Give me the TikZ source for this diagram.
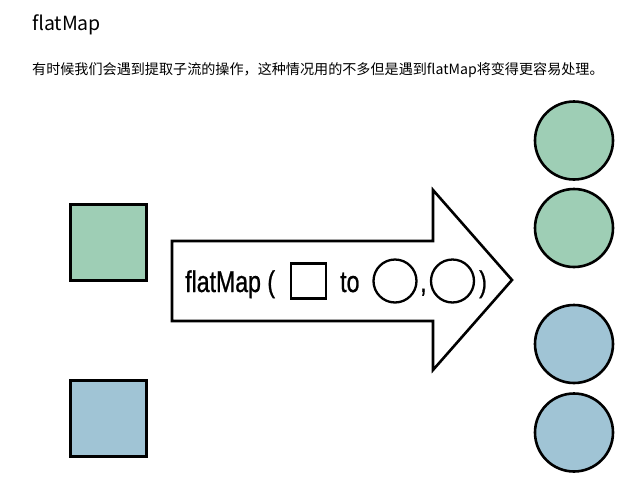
\documentclass[tikz,border=0pt]{standalone}
\usepackage{fontspec}
\setmainfont{Noto Sans CJK SC}
\newfontfamily\condfont[FakeStretch=0.77,FakeBold=0.8]{Liberation Sans}
\definecolor{sqgreen}{RGB}{158,206,181}
\definecolor{sqblue}{RGB}{160,196,213}
\tikzset{
  shapebox/.style={draw=black, line width=3pt, minimum size=76pt, inner sep=0pt},
  ball/.style={circle, draw=black, line width=2.6pt, minimum size=78pt, inner sep=0pt},
  smallsq/.style={draw=black, line width=2.3pt, minimum size=35pt, inner sep=0pt},
  smallball/.style={circle, draw=black, line width=2.3pt, minimum size=43pt, inner sep=0pt},
  armtext/.style={font=\condfont\fontsize{30}{30}\selectfont, inner sep=0pt, anchor=base west}
}
\begin{document}
\begin{tikzpicture}[x=1pt,y=-1pt]
\useasboundingbox (0,0) rectangle (630,483);
% heading and text
\node[anchor=base west, inner sep=0pt, font=\fontsize{19.5}{19.5}\selectfont] (title) at (32,30) {flatMap};
\node[anchor=base west, inner sep=0pt, font=\fontsize{14.1}{14.1}\selectfont] (desc) at (32,74) {有时候我们会遇到提取子流的操作，这种情况用的不多但是遇到flatMap将变得更容易处理。};
% input squares
\node[shapebox, fill=sqgreen] (gsq) at (108,242) {};
\node[shapebox, fill=sqblue] (bsq) at (108,418) {};
% arrow
\draw[line width=2.6pt, line join=miter, fill=white] (172,241) -- (433,241) -- (433,190) -- (512,280) -- (433,370) -- (433,321) -- (172,321) -- cycle;
\node[armtext] (fm) at (185,292) {flatMap (};
\node[smallsq] (isq) at (308.5,281) {};
\node[armtext] (to) at (340,292) {to};
\node[smallball] (ic1) at (395,281) {};
\node[armtext] (comma) at (420,292) {,};
\node[smallball] (ic2) at (452.5,281) {};
\node[armtext] (rp) at (479,292) {)};
% output circles
\node[ball, fill=sqgreen] (c1) at (574,140.5) {};
\node[ball, fill=sqgreen] (c2) at (574,228) {};
\node[ball, fill=sqblue] (c3) at (574,344) {};
\node[ball, fill=sqblue] (c4) at (574,432.5) {};
\end{tikzpicture}
\end{document}
